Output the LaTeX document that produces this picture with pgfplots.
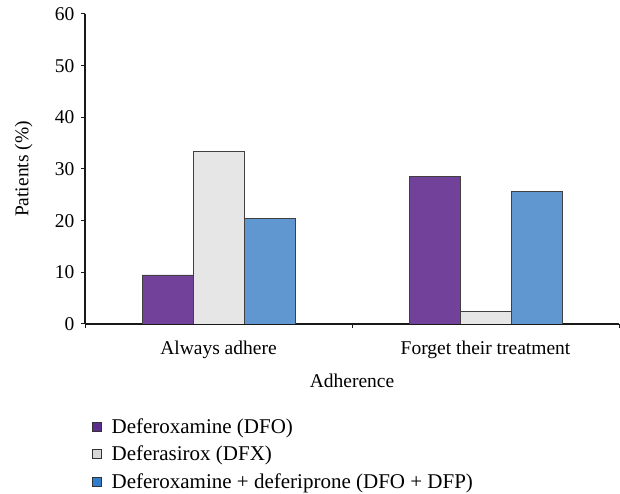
\documentclass[border=0pt]{standalone}
\usepackage{pgfplots}
\pgfplotsset{compat=1.18}
\usepackage{fontspec}
\setmainfont{Liberation Serif}
\definecolor{cpurple}{HTML}{72419A}
\definecolor{cgray}{HTML}{E6E6E6}
\definecolor{cblue}{HTML}{6197D0}
\definecolor{lpurple}{HTML}{5E2C8E}
\definecolor{lgray}{HTML}{D8D8D8}
\definecolor{lblue}{HTML}{2F7DCB}
\begin{document}
\begin{tikzpicture}
\useasboundingbox (0pt,0pt) rectangle (620pt,494pt);
\begin{axis}[
  at={(85pt,170pt)}, anchor=south west,
  scale only axis, width=534pt, height=310pt,
  ybar, bar width=51pt,
  xmin=-0.5, xmax=1.5, ymin=0, ymax=60,
  ytick={0,10,...,60},
  xtick={0,1}, xticklabels={Always adhere, Forget their treatment},
  axis lines=left, axis line style={-, line width=1.5pt, black!90},
  tick align=outside,
  major tick length=4pt,
  x tick style={draw=none},
  y tick style={line width=1pt, black!90},
  extra x ticks={-0.5,0.5,1.5}, extra x tick labels={},
  extra x tick style={x tick style={draw=black!90, line width=1pt}},
  tick label style={font=\fontsize{19.5}{22}\selectfont},
  label style={font=\fontsize{19.5}{22}\selectfont},
  /pgf/number format/assume math mode=true,
  xticklabel style={yshift=-9pt},
  yticklabel style={xshift=-3pt},
  xlabel={Adherence}, ylabel={Patients (\%)},
  xlabel style={yshift=-1pt},
  ylabel style={at={(axis description cs:-0.115,0.5)}, anchor=center},
  legend style={at={(0.0075,-0.292)}, anchor=north west, draw=none,
    font=\fontsize{21}{23}\selectfont, row sep=7pt, fill=none},
  legend cell align=left,
  legend image code/.code={\draw[#1, draw=black!80, line width=0.8pt] (0pt,-4.5pt) rectangle (9pt,4.5pt); \path[draw=none, fill=none] (0pt,0pt) rectangle (17pt,0.1pt);},
]
\addplot[fill=cpurple, draw=black!75, line width=0.7pt, bar shift=-51pt, forget plot] coordinates {(0,9.5) (1,28.6)};
\addplot[fill=cgray, draw=black!75, line width=0.7pt, bar shift=0pt, forget plot] coordinates {(0,33.4) (1,2.5)};
\addplot[fill=cblue, draw=black!75, line width=0.7pt, bar shift=51pt, forget plot] coordinates {(0,20.5) (1,25.6)};
\addlegendimage{fill=lpurple}
\addlegendimage{fill=lgray}
\addlegendimage{fill=lblue}
\legend{Deferoxamine (DFO), Deferasirox (DFX), Deferoxamine + deferiprone (DFO + DFP)}
\end{axis}
\end{tikzpicture}
\end{document}
